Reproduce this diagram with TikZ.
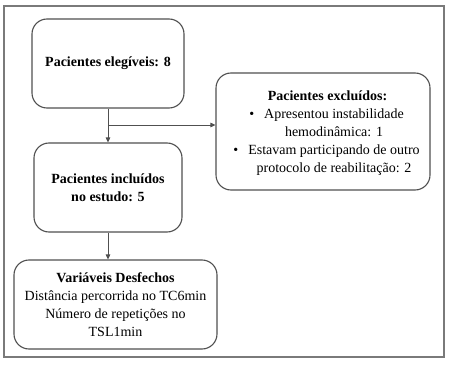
\documentclass[tikz,border=0pt]{standalone}
\usepackage{fontspec}
\setmainfont{LiberationSerif}[Extension=.ttf,UprightFont=*-Regular,BoldFont=*-Bold,ItalicFont=*-Italic,BoldItalicFont=*-BoldItalic]
\usetikzlibrary{arrows.meta}
\definecolor{framegray}{HTML}{7A7A7A}
\definecolor{boxgray}{HTML}{505050}
\begin{document}
\begin{tikzpicture}[x=1pt,y=-1pt,
  box/.style={draw=boxgray,line width=1.1pt,rounded corners=15pt,fill=white,inner sep=0pt,align=center,font=\fontsize{14}{18}\selectfont},
  txt/.style={inner sep=0pt,align=center,font=\fontsize{14}{18}\selectfont},
  arr/.style={draw=boxgray,line width=0.9pt,-{Triangle[length=5pt,width=4.5pt]}},
  frame/.style={draw=framegray,line width=2pt}]
\useasboundingbox (0,0) rectangle (452,366);
\draw[frame] (4,6) rectangle (444,357);
\node[box,minimum width=152pt,minimum height=89pt] (b1) at (108,63.5) {\textbf{Pacientes elegíveis: 8}};
\node[box,minimum width=148pt,minimum height=89pt] (b2) at (108,187.5) {\textbf{Pacientes incluídos}\\\textbf{no estudo: 5}};
\node[box,minimum width=203pt,minimum height=89pt] (b3) at (115.5,304.5) {\textbf{Variáveis Desfechos}\\Distância percorrida no TC6min\\Número de repetições no\\TSL1min};
\node[box,minimum width=214pt,minimum height=117pt] (ex) at (323,131.5) {};
\node[txt] (extxt) at (334,133) {\hspace*{-13pt}\textbf{Pacientes excluídos:}\\\llap{•\hspace{10pt}}Apresentou instabilidade\\hemodinâmica: 1\\\llap{•\hspace{10pt}}Estavam participando de outro\\protocolo de reabilitação: 2};
\coordinate (j) at (108,125);
\draw[arr] (b1.south) -- (b1.south |- b2.north);
\draw[arr] (j) -- (j -| ex.west);
\draw[arr] (b2.south) -- (b2.south |- b3.north);
\end{tikzpicture}
\end{document}
